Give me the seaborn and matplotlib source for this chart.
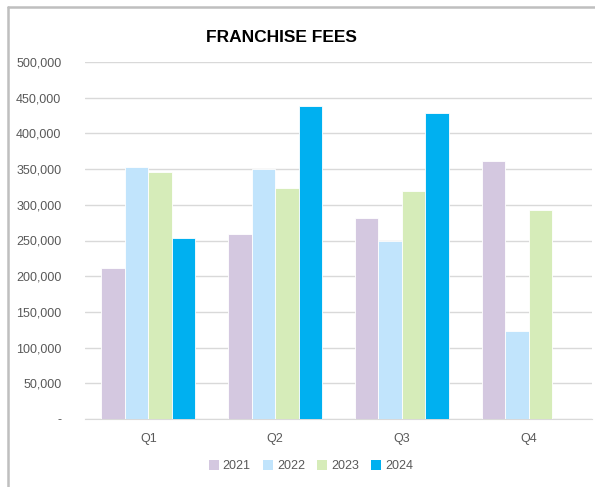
import matplotlib
matplotlib.use("Agg")
import matplotlib.pyplot as plt
import matplotlib.ticker as mticker
from matplotlib.lines import Line2D
from matplotlib.patches import Patch
import pandas as pd
import seaborn as sns

# data
quarters = ["Q1", "Q2", "Q3", "Q4"]
years = ["2021", "2022", "2023", "2024"]
fees_2021 = [212000, 259500, 282000, 362000]
fees_2022 = [352500, 350500, 250000, 123500]
fees_2023 = [346500, 324000, 319500, 292500]
fees_2024 = [253500, 438000, 428500, None]
colors = ["#D4C8E0", "#C1E4FC", "#D6ECB9", "#00B0F0"]

rows = []
for yr, vals in zip(years, [fees_2021, fees_2022, fees_2023, fees_2024]):
    for q, v in zip(quarters, vals):
        if v is not None:
            rows.append({"quarter": q, "year": yr, "fees": v})
df = pd.DataFrame(rows)

sns.set_style("white")
plt.rcParams["font.family"] = ["Liberation Sans", "DejaVu Sans"]

fig = plt.figure(figsize=(5.95, 4.87), dpi=100)
ax = fig.add_axes([85 / 595, 1 - 419 / 487, 507 / 595, 357 / 487])

sns.barplot(data=df, x="quarter", y="fees", hue="year", order=quarters,
            hue_order=years, palette=colors, saturation=1, width=0.74, ax=ax,
            edgecolor="white", linewidth=0.6, legend=False, zorder=3)

ax.set_ylim(0, 500000)
ax.set_xlim(-0.5, 3.5)
ax.yaxis.set_major_locator(mticker.MultipleLocator(50000))
ax.yaxis.set_major_formatter(mticker.FuncFormatter(
    lambda v, p: "-" if v == 0 else f"{int(v):,}"))
ax.grid(axis="y", color="#D9D9D9", linewidth=1, zorder=0)
ax.set_axisbelow(True)
for s in ["top", "right", "left"]:
    ax.spines[s].set_visible(False)
ax.spines["bottom"].set_color("#D9D9D9")
ax.tick_params(axis="both", length=0, labelsize=9, labelcolor="#595959")
ax.tick_params(axis="y", pad=17)
ax.tick_params(axis="x", pad=10)
ax.set_xlabel("")
ax.set_ylabel("")

fig.text(281 / 595, 1 - 37 / 487, "FRANCHISE FEES", ha="center", va="center",
         fontsize=12.5, fontweight="bold", color="black")

handles = [Patch(facecolor=c, edgecolor="none") for c in colors]
fig.legend(handles, years, loc="center", bbox_to_anchor=(311 / 595, 1 - 466 / 487),
           ncol=4, frameon=False, fontsize=9, labelcolor="#595959",
           handlelength=0.8, handleheight=0.8, handletextpad=0.3, columnspacing=1.0)

# outer chart frame (only top and left edges visible in the crop)
fig.add_artist(Line2D([8 / 595, 1], [1 - 7 / 487, 1 - 7 / 487], color="#BFBFBF",
                      linewidth=1.8, transform=fig.transFigure))
fig.add_artist(Line2D([8 / 595, 8 / 595], [0, 1 - 7 / 487], color="#BFBFBF",
                      linewidth=1.8, transform=fig.transFigure))

fig.savefig("out.png", dpi=100)
